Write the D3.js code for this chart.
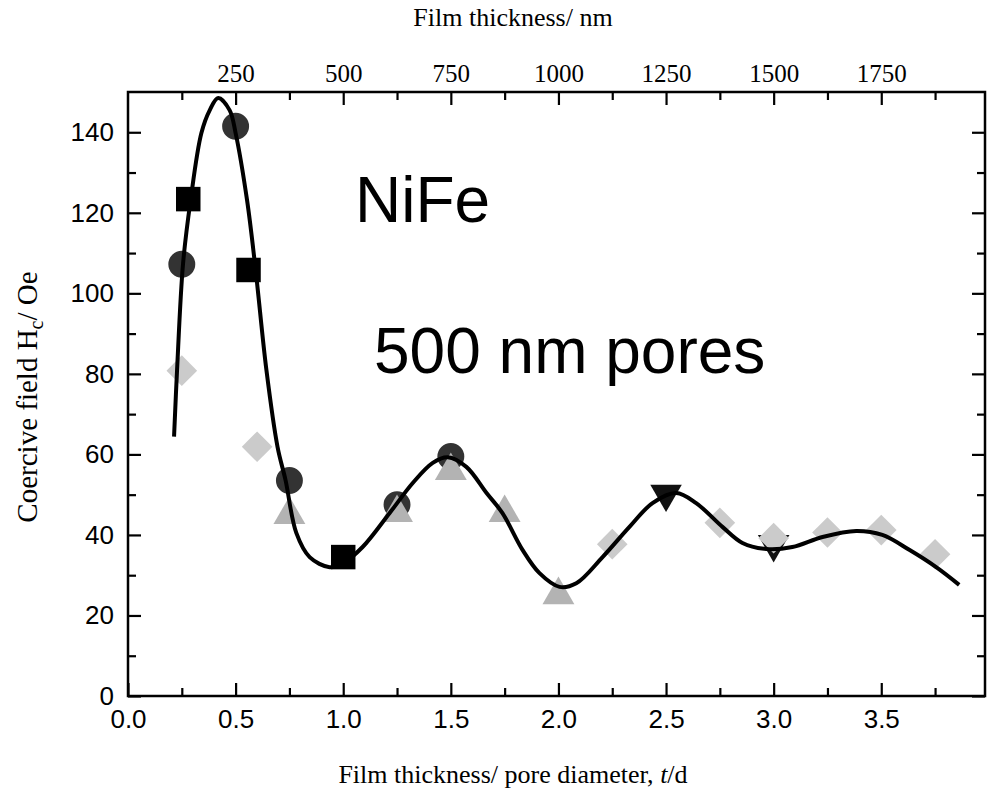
<!DOCTYPE html>
<html>
<head>
<meta charset="utf-8">
<script src="https://cdn.jsdelivr.net/npm/d3@7"></script>
<style>
  html, body { margin: 0; padding: 0; background: #fff; }
  svg { display: block; }
</style>
</head>
<body>
<svg id="chart" width="998" height="790"></svg>
<script>
// ---------- data ----------
const circleX = [0.25, 0.5, 0.75, 1.25, 1.5];
const circleY = [107.2, 141.5, 53.5, 47.5, 59.5];

const squareX = [0.28, 0.56, 1.0];
const squareY = [123.4, 105.8, 34.5];

const diamondX = [0.25, 0.6, 2.25, 2.75, 3.0, 3.25, 3.5, 3.75];
const diamondY = [80.8, 61.9, 37.7, 43.0, 39.2, 40.6, 41.2, 35.2];

const triUpX = [0.75, 1.25, 1.5, 1.75, 2.0];
const triUpY = [45.0, 45.5, 55.9, 45.5, 25.1];

const triDownX = [2.5, 3.0];
const triDownY = [50.2, 37.7];

const fitX = [0.214, 0.228, 0.256, 0.291, 0.341, 0.38, 0.419, 0.472, 0.5, 0.553, 0.593, 0.643, 0.695, 0.732, 0.782, 0.844, 0.937, 1.0, 1.09, 1.215, 1.323, 1.416, 1.486, 1.572, 1.666, 1.74, 1.833, 1.912, 2.005, 2.083, 2.205, 2.33, 2.437, 2.547, 2.64, 2.762, 2.855, 2.966, 3.087, 3.227, 3.384, 3.505, 3.63, 3.755, 3.862];
const fitY = [64.4, 81.0, 107.5, 123.2, 139.8, 145.5, 148.5, 145.5, 139.8, 123.2, 105.8, 81.0, 61.8, 53.6, 40.5, 34.5, 32.0, 33.0, 37.0, 45.4, 52.9, 57.9, 59.3, 56.9, 50.4, 45.4, 36.3, 30.5, 27.1, 28.0, 34.5, 42.0, 47.9, 50.4, 47.9, 42.0, 38.0, 36.5, 37.0, 39.5, 41.0, 40.0, 36.3, 32.0, 27.6];

const bottomTicks = [0, 0.5, 1.0, 1.5, 2.0, 2.5, 3.0, 3.5];
const bottomMinor = [0.25, 0.75, 1.25, 1.75, 2.25, 2.75, 3.25, 3.75];
const leftTicks = [0, 20, 40, 60, 80, 100, 120, 140];
const leftMinor = [10, 30, 50, 70, 90, 110, 130];
const topTicks = [250, 500, 750, 1000, 1250, 1500, 1750];
const topMinor = [125, 375, 625, 875, 1125, 1375, 1625, 1875];

// ---------- layout ----------
const L = 128, R = 985, T = 92, B = 696;
const svg = d3.select("#chart");

const x = d3.scaleLinear().domain([0, 3.982]).range([L, R]);
const xTop = d3.scaleLinear().domain([0, 3.982 * 500]).range([L, R]);
const y = d3.scaleLinear().domain([0, 150]).range([B, T]);

const sans = "'Liberation Sans', Arial, sans-serif";
const serif = "'Liberation Serif', 'Times New Roman', serif";

// ---------- axes ----------
function styleAxis(g, font, size) {
  g.select(".domain").remove();
  g.selectAll(".tick line").attr("stroke", "#000").attr("stroke-width", 2.2);
  g.selectAll(".tick text").attr("font-family", font).attr("font-size", size).attr("fill", "#000");
}

const MAJ = 13, MIN = 8;

// bottom
svg.append("g").attr("transform", `translate(0,${B})`)
  .call(d3.axisBottom(x).tickValues(bottomTicks).tickFormat(d3.format(".1f")).tickSize(-MAJ).tickPadding(14))
  .call(g => styleAxis(g, sans, 26));
svg.append("g").attr("transform", `translate(0,${B})`)
  .call(d3.axisBottom(x).tickValues(bottomMinor).tickFormat("").tickSize(-MIN))
  .call(g => styleAxis(g, sans, 26));

// left
svg.append("g").attr("transform", `translate(${L},0)`)
  .call(d3.axisLeft(y).tickValues(leftTicks).tickFormat(d3.format("d")).tickSize(-MAJ).tickPadding(14))
  .call(g => styleAxis(g, sans, 26));
svg.append("g").attr("transform", `translate(${L},0)`)
  .call(d3.axisLeft(y).tickValues(leftMinor).tickFormat("").tickSize(-MIN))
  .call(g => styleAxis(g, sans, 26));

// right
svg.append("g").attr("transform", `translate(${R},0)`)
  .call(d3.axisRight(y).tickValues(leftTicks).tickFormat("").tickSize(-MAJ))
  .call(g => styleAxis(g, sans, 26));
svg.append("g").attr("transform", `translate(${R},0)`)
  .call(d3.axisRight(y).tickValues(leftMinor).tickFormat("").tickSize(-MIN))
  .call(g => styleAxis(g, sans, 26));

// top
svg.append("g").attr("transform", `translate(0,${T})`)
  .call(d3.axisTop(xTop).tickValues(topTicks).tickFormat(d3.format("d")).tickSize(-MAJ).tickPadding(10))
  .call(g => styleAxis(g, serif, 25));
svg.append("g").attr("transform", `translate(0,${T})`)
  .call(d3.axisTop(xTop).tickValues(topMinor).tickFormat("").tickSize(-MIN))
  .call(g => styleAxis(g, serif, 25));

// frame
svg.append("rect").attr("x", L).attr("y", T).attr("width", R - L).attr("height", B - T)
  .attr("fill", "none").attr("stroke", "#000").attr("stroke-width", 2.5);

// ---------- markers ----------
const gm = svg.append("g");
function drawSymbols(xs, ys, type, size, fill, rot) {
  const sym = d3.symbol().type(type).size(size);
  gm.selectAll(null).data(xs.map((v, i) => [v, ys[i]])).join("path")
    .attr("d", sym)
    .attr("transform", d => `translate(${x(d[0])},${y(d[1])}) rotate(${rot})`)
    .attr("fill", fill);
}
drawSymbols(triDownX, triDownY, d3.symbolTriangle, 430, "#111", 180);
drawSymbols(circleX, circleY, d3.symbolCircle, 570, "#333", 0);
drawSymbols(squareX, squareY, d3.symbolSquare, 600, "#000", 0);
drawSymbols(triUpX, triUpY, d3.symbolTriangle, 440, "#b3b3b3", 0);
drawSymbols(diamondX, diamondY, d3.symbolSquare, 470, "#cbcbcb", 45);

// ---------- fit curve ----------
const line = d3.line().x(d => x(d[0])).y(d => y(d[1])).curve(d3.curveCatmullRom.alpha(0.5));
svg.append("path").datum(fitX.map((v, i) => [v, fitY[i]]))
  .attr("d", line).attr("fill", "none").attr("stroke", "#000").attr("stroke-width", 4)
  .attr("stroke-linejoin", "round");

// ---------- texts ----------
svg.append("text").attr("x", 513).attr("y", 26).attr("text-anchor", "middle")
  .attr("font-family", serif).attr("font-size", 26).text("Film thickness/ nm");

const bt = svg.append("text").attr("x", 513).attr("y", 783).attr("text-anchor", "middle")
  .attr("font-family", serif).attr("font-size", 26);
bt.append("tspan").text("Film thickness/ pore diameter, ");
bt.append("tspan").attr("font-style", "italic").text("t");
bt.append("tspan").text("/d");

const yl = svg.append("text").attr("transform", "translate(37,397) rotate(-90)").attr("text-anchor", "middle")
  .attr("font-family", serif).attr("font-size", 29);
yl.append("tspan").text("Coercive field H");
yl.append("tspan").attr("font-size", 20).attr("dy", 6).text("c");
yl.append("tspan").attr("dy", -6).text("/ Oe");

svg.append("text").attr("x", 355).attr("y", 222)
  .attr("font-family", sans).attr("font-size", 64).text("NiFe");
svg.append("text").attr("x", 374).attr("y", 373)
  .attr("font-family", sans).attr("font-size", 64).text("500 nm pores");
</script>
</body>
</html>
